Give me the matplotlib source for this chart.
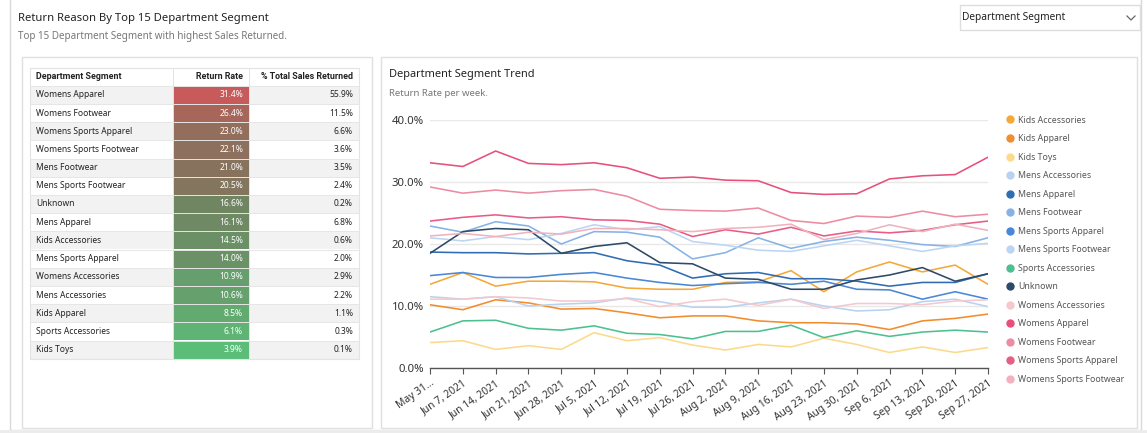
import numpy as np
import matplotlib
matplotlib.use("Agg")
from matplotlib import pyplot as plt
from matplotlib.patches import Rectangle
from matplotlib.lines import Line2D
from matplotlib.colors import LinearSegmentedColormap

plt.rcParams['font.family'] = ['Noto Sans', 'DejaVu Sans']

W, H = 1147, 433

#%% table data
tbl_segments = ["Womens Apparel", "Womens Footwear", "Womens Sports Apparel",
                "Womens Sports Footwear", "Mens Footwear", "Mens Sports Footwear",
                "Unknown", "Mens Apparel", "Kids Accessories", "Mens Sports Apparel",
                "Womens Accessories", "Mens Accessories", "Kids Apparel",
                "Sports Accessories", "Kids Toys"]
tbl_return_rate = [31.4, 26.4, 23.0, 22.1, 21.0, 20.5, 16.6, 16.1, 14.5, 14.0,
                   10.9, 10.6, 8.5, 6.1, 3.9]
tbl_total_returned = [55.9, 11.5, 6.6, 3.6, 3.5, 2.4, 0.2, 6.8, 0.6, 2.0,
                      2.9, 2.2, 1.1, 0.3, 0.1]
tbl_headers = ["Department Segment", "Return Rate", "% Total Sales Returned"]

#%% weekly trend data (return rate %)
weeks = ["May 31...", "Jun 7, 2021", "Jun 14, 2021", "Jun 21, 2021", "Jun 28, 2021",
         "Jul 5, 2021", "Jul 12, 2021", "Jul 19, 2021", "Jul 26, 2021", "Aug 2, 2021",
         "Aug 9, 2021", "Aug 16, 2021", "Aug 23, 2021", "Aug 30, 2021", "Sep 6, 2021",
         "Sep 13, 2021", "Sep 20, 2021", "Sep 27, 2021"]

kids_accessories = [13.5, 15.4, 13.2, 14.0, 14.0, 13.9, 12.9, 12.7, 12.7, 13.8,
                    13.9, 15.7, 12.3, 15.5, 17.1, 15.5, 16.6, 13.5]
kids_apparel = [10.2, 9.4, 11.0, 10.5, 9.5, 9.6, 8.9, 8.1, 8.4, 8.4,
                7.6, 7.3, 7.3, 7.1, 6.2, 7.6, 8.0, 8.7]
kids_toys = [4.1, 4.4, 3.0, 3.6, 3.0, 5.7, 4.4, 4.9, 3.7, 2.9,
             3.8, 3.4, 4.8, 3.8, 2.5, 3.4, 2.5, 3.3]
mens_accessories = [11.5, 11.1, 11.5, 10.0, 10.3, 10.5, 11.3, 10.7, 9.8, 9.8,
                    10.5, 11.1, 10.0, 9.2, 9.4, 10.7, 11.1, 9.9]
mens_apparel = [18.7, 18.6, 18.6, 18.4, 18.5, 18.6, 17.3, 16.6, 14.5, 15.2,
                15.4, 14.4, 14.4, 14.0, 13.2, 13.8, 13.8, 15.2]
mens_footwear = [22.9, 21.9, 23.6, 22.9, 20.0, 22.0, 21.9, 21.1, 17.6, 18.6,
                 21.0, 19.3, 20.4, 21.1, 20.6, 19.9, 19.6, 21.0]
mens_sports_apparel = [14.9, 15.4, 14.6, 14.6, 15.1, 15.4, 14.5, 13.8, 13.3, 13.6,
                       13.8, 13.5, 14.0, 12.7, 12.6, 11.1, 12.3, 11.1]
mens_sports_footwear = [21.0, 20.5, 21.2, 20.7, 21.7, 23.1, 22.3, 22.8, 20.4, 19.8,
                        19.0, 18.8, 19.7, 20.6, 19.7, 18.8, 19.7, 20.1]
sports_accessories = [5.8, 7.6, 7.7, 6.4, 6.1, 6.8, 5.6, 5.4, 4.7, 5.9,
                      5.9, 6.9, 4.9, 6.0, 5.1, 5.8, 6.1, 5.8]
unknown = [18.5, 22.0, 22.5, 22.3, 18.5, 19.6, 20.2, 17.0, 16.8, 14.5,
           14.3, 12.7, 12.7, 14.2, 15.0, 16.2, 14.0, 15.2]
womens_accessories = [11.1, 11.1, 11.5, 11.3, 10.8, 10.8, 11.2, 9.9, 10.7, 11.1,
                      10.1, 11.1, 9.6, 10.4, 10.4, 10.2, 10.8, 11.0]
womens_apparel = [33.1, 32.5, 35.0, 33.0, 32.8, 33.1, 32.3, 30.6, 30.8, 30.3,
                  30.2, 28.3, 28.0, 28.1, 30.5, 31.0, 31.2, 34.0]
womens_footwear = [29.2, 28.2, 28.7, 28.2, 28.6, 28.8, 27.7, 25.6, 25.4, 25.3,
                   25.8, 23.8, 23.3, 24.5, 24.3, 25.3, 24.4, 24.8]
womens_sports_apparel = [23.7, 24.3, 24.7, 24.2, 24.4, 23.9, 23.8, 23.2, 21.2, 22.3,
                         21.6, 22.7, 21.3, 22.1, 21.8, 22.2, 23.1, 23.7]
womens_sports_footwear = [21.3, 21.7, 21.2, 21.9, 21.6, 22.5, 22.5, 22.3, 22.0, 22.5,
                          22.7, 23.2, 20.7, 21.7, 23.1, 22.0, 23.2, 22.2]

series_names = ["Kids Accessories", "Kids Apparel", "Kids Toys", "Mens Accessories",
                "Mens Apparel", "Mens Footwear", "Mens Sports Apparel",
                "Mens Sports Footwear", "Sports Accessories", "Unknown",
                "Womens Accessories", "Womens Apparel", "Womens Footwear",
                "Womens Sports Apparel", "Womens Sports Footwear"]
series_values = [kids_accessories, kids_apparel, kids_toys, mens_accessories,
                 mens_apparel, mens_footwear, mens_sports_apparel, mens_sports_footwear,
                 sports_accessories, unknown, womens_accessories, womens_apparel,
                 womens_footwear, womens_sports_apparel, womens_sports_footwear]
series_colors = ["#f5a83a", "#f28c2c", "#fbda8c", "#b8d2f0", "#2f6cb4", "#86b2e6",
                 "#4a87d4", "#bcd5f3", "#4cc090", "#2c4a6a", "#f4c8cf", "#e6507b",
                 "#ec8ca3", "#e85c86", "#f1b2bf"]


def fx(x):
    return x / W


def fy(y):
    return 1 - y / H


fig = plt.figure(figsize=(W / 100, H / 100), dpi=100)
fig.patch.set_facecolor("white")

# background layer in pixel coords
bg = fig.add_axes([0, 0, 1, 1], zorder=0)
bg.set_xlim(0, W)
bg.set_ylim(H, 0)
bg.axis("off")

# card + panels
bg.add_patch(Rectangle((10, -5), 1131, 435, facecolor="white", edgecolor="#d9d9d9", lw=1))
bg.add_patch(Rectangle((0, 430), W, 5, facecolor="#ececec", edgecolor="none"))
bg.add_patch(Rectangle((22, 57), 350, 371, facecolor="white", edgecolor="#e0e0e0", lw=1))
bg.add_patch(Rectangle((381, 57), 756, 371, facecolor="white", edgecolor="#e0e0e0", lw=1))

bg.text(18, 18, "Return Reason By Top 15 Department Segment", fontsize=8.1,
        color="#222222", va="center", ha="left")
bg.text(18, 36, "Top 15 Department Segment with highest Sales Returned.", fontsize=7.1,
        color="#777777", va="center", ha="left")

# dropdown
bg.add_patch(Rectangle((960, 5), 180, 25, facecolor="white", edgecolor="#dddddd", lw=1))
bg.text(962, 17.5, "Department Segment", fontsize=7.3, color="#222222", va="center")
bg.plot([1127, 1131, 1135], [16, 20, 16], color="#666666", lw=0.9)

# table
x_cols = [30, 173, 249, 359]
row_h = 18.2
y0 = 67.5
cmap = LinearSegmentedColormap.from_list(
    "rr", [(0, "#5cbd79"), (0.45, "#6e8863"), (0.62, "#86735d"), (1, "#c75a5a")])
vmin, vmax = min(tbl_return_rate), max(tbl_return_rate)

hdr_kw = dict(fontsize=6.4, fontweight="bold", color="#222222", va="center",
              family=["Roboto", "DejaVu Sans"])
bg.text(36, y0 + 9, tbl_headers[0], ha="left", **hdr_kw)
bg.text(243, y0 + 9, tbl_headers[1], ha="right", **hdr_kw)
bg.text(353, y0 + 9, tbl_headers[2], ha="right", **hdr_kw)

for i, seg in enumerate(tbl_segments):
    top = y0 + row_h * (i + 1)
    if i % 2 == 0:
        bg.add_patch(Rectangle((x_cols[0], top), x_cols[3] - x_cols[0], row_h,
                               facecolor="#f2f2f2", edgecolor="none"))
    c = cmap((tbl_return_rate[i] - vmin) / (vmax - vmin))
    bg.add_patch(Rectangle((x_cols[1], top), x_cols[2] - x_cols[1], row_h,
                           facecolor=c, edgecolor="none"))
    bg.plot([x_cols[0], x_cols[3]], [top, top], color="#e6e6e6", lw=0.7)
    bg.text(36, top + row_h / 2, seg, fontsize=6.1, color="#222222", va="center")
    bg.text(243, top + row_h / 2, f"{tbl_return_rate[i]:.1f}%", fontsize=6.1,
            color="white", va="center", ha="right")
    bg.text(353, top + row_h / 2, f"{tbl_total_returned[i]:.1f}%", fontsize=6.1,
            color="#222222", va="center", ha="right")

y_end = y0 + row_h * (len(tbl_segments) + 1)
bg.add_patch(Rectangle((x_cols[0], y0), x_cols[3] - x_cols[0], y_end - y0,
                       facecolor="none", edgecolor="#e3e3e3", lw=0.8))
for xc in x_cols[1:3]:
    bg.plot([xc, xc], [y0, y_end], color="#e3e3e3", lw=0.7)

# trend chart
bg.text(389, 75, "Department Segment Trend", fontsize=7.95, color="#222222", va="center")
bg.text(389, 94, "Return Rate per week.", fontsize=6.9, color="#777777", va="center")

ax = fig.add_axes([fx(430), fy(368), fx(988) - fx(430), fy(120) - fy(368)], zorder=1)
ax.patch.set_alpha(0)
xs = np.arange(len(weeks))
for name, vals, col in zip(series_names, series_values, series_colors):
    ax.plot(xs, vals, color=col, lw=1.15, label=name)

ax.set_xlim(0, len(weeks) - 1)
ax.set_ylim(0, 40)
ax.set_yticks([0, 10, 20, 30, 40])
ax.set_yticklabels(["0.0%", "10.0%", "20.0%", "30.0%", "40.0%"], fontsize=8.2, color="#333333")
ax.tick_params(axis="y", length=0, pad=4.5)
ax.grid(axis="y", color="#e8e8e8", lw=1)
ax.set_axisbelow(True)
for s in ["top", "right", "left"]:
    ax.spines[s].set_visible(False)
ax.spines["bottom"].set_color("#555555")
ax.spines["bottom"].set_linewidth(1.0)
ax.set_xticks(xs)
ax.set_xticklabels(weeks, rotation=35, ha="right", rotation_mode="anchor",
                   fontsize=7.4, color="#333333")
ax.tick_params(axis="x", length=4, color="#555555", pad=3)

handles = [Line2D([], [], marker="o", linestyle="", color=c, markersize=5)
           for c in series_colors]
fig.legend(handles, series_names, loc="upper left",
           bbox_to_anchor=(fx(1006.5), fy(115.5)), frameon=False, fontsize=6.3,
           labelcolor="#555555", handletextpad=0.5, labelspacing=1.09,
           handlelength=0.8, borderaxespad=0, borderpad=0)

fig.savefig("out.png", dpi=100, facecolor="white")
